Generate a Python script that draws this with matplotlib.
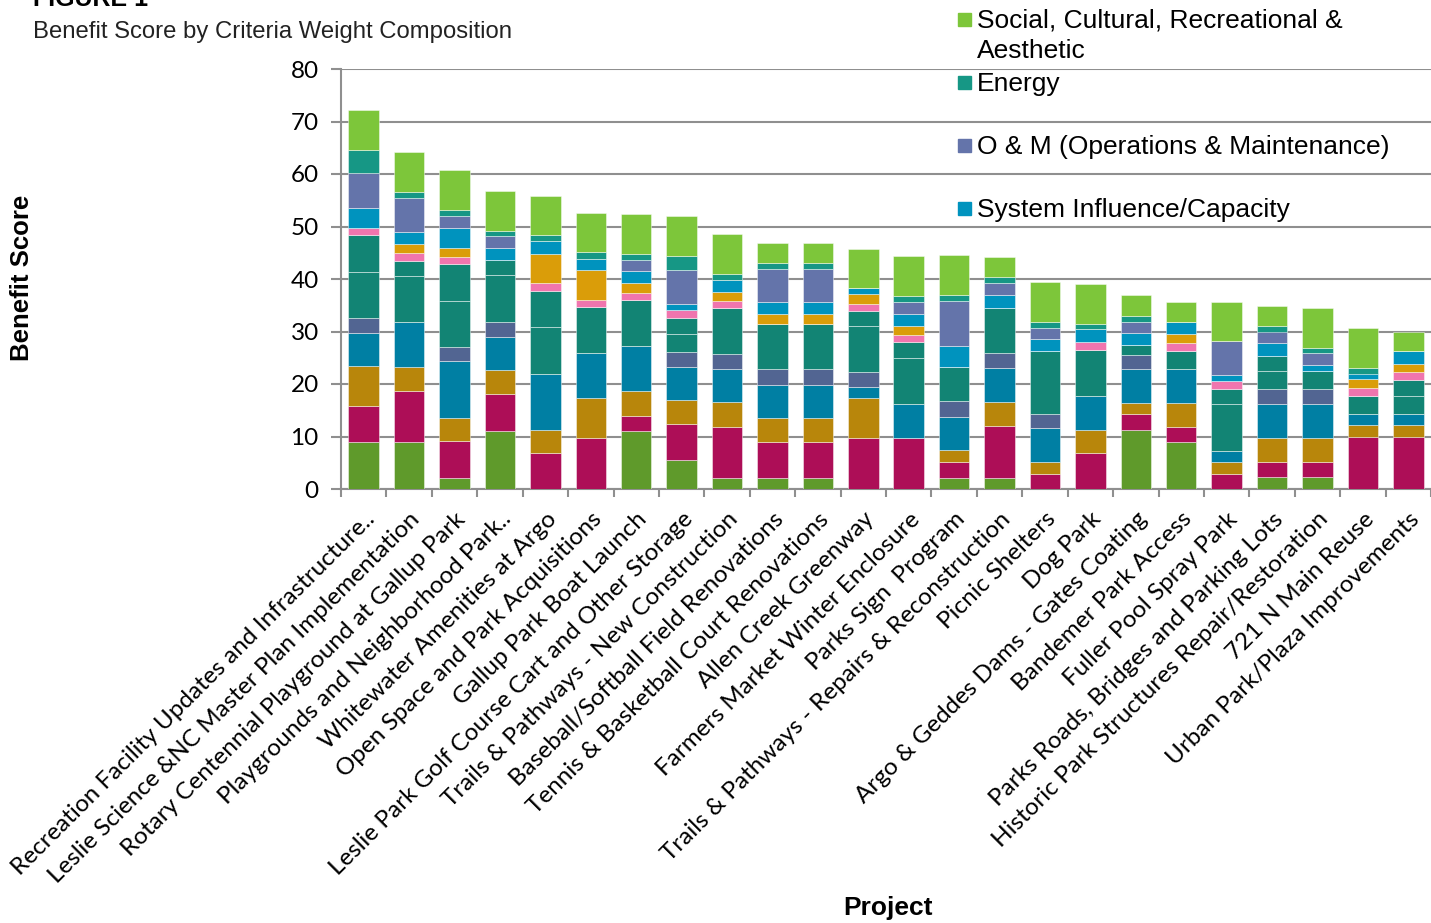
import matplotlib.pyplot as plt
import matplotlib.patches as mpatches
import numpy as np

projects = [
    "Recreation Facility Updates and Infrastructure..",
    "Leslie Science &NC Master Plan Implementation",
    "Rotary Centennial Playground at Gallup Park",
    "Playgrounds and Neighborhood Park..",
    "Whitewater Amenities at Argo",
    "Open Space and Park Acquisitions",
    "Gallup Park Boat Launch",
    "Leslie Park Golf Course Cart and Other Storage",
    "Trails & Pathways - New Construction",
    "Baseball/Softball Field Renovations",
    "Tennis & Basketball Court Renovations",
    "Allen Creek Greenway",
    "Farmers Market Winter Enclosure",
    "Parks Sign  Program",
    "Trails & Pathways - Repairs & Reconstruction",
    "Picnic Shelters",
    "Dog Park",
    "Argo & Geddes Dams - Gates Coating",
    "Bandemer Park Access",
    "Fuller Pool Spray Park",
    "Parks Roads, Bridges and Parking Lots",
    "Historic Park Structures Repair/Restoration",
    "721 N Main Reuse",
    "Urban Park/Plaza Improvements",
]

# criteria scores, stacked bottom -> top
s_green = [8.9, 8.9, 2.1, 11.1, 0, 0, 11.1, 5.5, 2.1, 2.1, 2.1, 0, 0, 2.1, 2.1, 0, 0, 11.2, 8.9, 0, 2.2, 2.2, 0, 0]
s_magenta = [6.9, 9.8, 7.0, 7.0, 6.9, 9.8, 2.9, 6.8, 9.8, 6.9, 6.9, 9.7, 9.8, 3.1, 9.9, 2.8, 6.8, 3.0, 3.0, 2.9, 2.9, 2.9, 9.9, 9.9]
s_darkgold = [7.6, 4.6, 4.5, 4.6, 4.4, 7.6, 4.6, 4.6, 4.6, 4.5, 4.5, 7.6, 0, 2.2, 4.6, 2.4, 4.5, 2.2, 4.5, 2.3, 4.6, 4.6, 2.2, 2.2]
s_darkblue = [6.3, 8.6, 10.7, 6.3, 10.7, 8.5, 8.6, 6.4, 6.4, 6.4, 6.4, 2.1, 6.4, 6.4, 6.4, 6.4, 6.4, 6.4, 6.5, 2.1, 6.4, 6.4, 2.2, 2.2]
s_darkslate = [2.9, 0, 2.7, 2.9, 0, 0, 0, 2.8, 2.8, 2.9, 2.9, 2.8, 0, 2.9, 2.9, 2.7, 0, 2.8, 0, 0, 2.9, 2.9, 0, 0]
s_teal1 = [8.7, 8.6, 8.8, 8.8, 8.8, 8.7, 8.8, 3.5, 8.7, 8.7, 8.7, 8.8, 8.8, 6.5, 8.6, 11.9, 8.8, 1.8, 3.4, 8.8, 3.4, 3.4, 3.4, 3.5]
s_teal2 = [7.0, 3.0, 7.0, 3.0, 6.9, 0, 0, 3.0, 0, 0, 0, 2.9, 3.0, 0, 0, 0, 0, 0, 0, 3.0, 3.0, 0, 0, 2.9]
s_pink = [1.5, 1.5, 1.4, 0, 1.5, 1.4, 1.4, 1.5, 1.5, 0, 0, 1.4, 1.4, 0, 0, 0, 1.5, 0, 1.5, 1.4, 0, 0, 1.5, 1.5]
s_gold = [0, 1.7, 1.8, 0, 5.6, 5.7, 1.8, 0, 1.7, 1.8, 1.8, 1.8, 1.7, 0, 0, 0, 0, 0, 1.8, 0, 0, 0, 1.7, 1.7]
s_system = [3.8, 2.3, 3.8, 2.2, 2.4, 2.2, 2.3, 1.1, 2.3, 2.3, 2.3, 1.1, 2.3, 4.0, 2.5, 2.3, 2.4, 2.4, 2.3, 1.2, 2.4, 1.3, 1.1, 2.3]
s_om = [6.5, 6.4, 2.2, 2.2, 0, 0, 2.2, 6.5, 0, 6.4, 6.4, 0, 2.2, 8.6, 2.2, 2.2, 0, 2.1, 0, 6.4, 2.2, 2.2, 0, 0]
s_energy = [4.4, 1.1, 1.1, 1.1, 1.1, 1.2, 1.1, 2.7, 1.1, 1.1, 1.1, 0, 1.1, 1.1, 1.1, 1.2, 1.1, 1.1, 0, 0, 1.1, 1.0, 1.1, 0]
s_social = [7.6, 7.6, 7.6, 7.6, 7.6, 7.5, 7.6, 7.6, 7.6, 3.8, 3.8, 7.6, 7.7, 7.7, 3.9, 7.5, 7.6, 3.9, 3.8, 7.6, 3.8, 7.6, 7.6, 3.8]

series = [s_green, s_magenta, s_darkgold, s_darkblue, s_darkslate, s_teal1, s_teal2,
          s_pink, s_gold, s_system, s_om, s_energy, s_social]
colors = ['#5F9A2B', '#AD0E57', '#B8860B', '#007FA3', '#526592', '#128474', '#128474',
          '#F075AE', '#DA9D09', '#0093BE', '#6474AA', '#169785', '#7DC63A']

# only the top part of the legend is visible in the figure
legend_labels = ['Social, Cultural, Recreational &\nAesthetic', 'Energy',
                 'O & M (Operations & Maintenance)', 'System Influence/Capacity']
legend_colors = ['#7DC63A', '#169785', '#6474AA', '#0093BE']

W, H = 1431, 923
fig = plt.figure(figsize=(W / 100, H / 100), dpi=100)
ax = fig.add_axes([341 / W, 1 - 489 / H, (W - 341) / W, 420 / H])

x = np.arange(len(projects))
bottom = np.zeros(len(projects))
for vals, c in zip(series, colors):
    ax.bar(x, vals, width=0.67, bottom=bottom, color=c,
           edgecolor=(1, 1, 1, 0.45), linewidth=0.7, zorder=3)
    bottom += np.array(vals)

grey = '#8f8f8f'
ax.set_ylim(0, 80)
ax.set_xlim(-0.5, len(projects) - 0.5)
ax.set_yticks(range(0, 81, 10))
ax.yaxis.grid(True, color=grey, linewidth=1.5, zorder=0)
ax.set_axisbelow(True)
for side in ['top', 'right']:
    ax.spines[side].set_visible(False)
for side in ['left', 'bottom']:
    ax.spines[side].set_color(grey)
    ax.spines[side].set_linewidth(1.5)
ax.tick_params(axis='y', length=7, width=1.5, color=grey, labelsize=17.5, pad=9)
for lab in ax.get_yticklabels():
    lab.set_family('Lato')

ax.set_xticks(x)
ax.set_xticks(np.arange(-0.5, len(projects), 1), minor=True)
ax.tick_params(axis='x', which='major', length=0, pad=14)
ax.tick_params(axis='x', which='minor', length=6, width=1.5, color=grey)
ax.set_xticklabels(projects, rotation=45, ha='right', rotation_mode='anchor',
                   fontsize=17.5, family='Lato')

# titles
fig.text(33 / W, 1 - 6 / H, 'FIGURE 1', fontsize=18, fontweight='bold',
         family='Liberation Sans', va='baseline')
fig.text(33 / W, 1 - 32 / H, 'Benefit Score by Criteria Weight Composition', fontsize=17.2,
         family='Liberation Sans', va='center', color='#222222')
fig.text(22 / W, 1 - 278 / H, 'Benefit Score', rotation=90, fontsize=18.5, fontweight='bold',
         family='Liberation Sans', ha='center', va='center')
fig.text(888 / W, 1 - 908 / H, 'Project', fontsize=19, fontweight='bold',
         family='Liberation Sans', ha='center', va='center')

# legend (manual, entries overlap the grid like the original)
leg_y = [19, 82, 145, 208]
for lab, c, yy in zip(legend_labels, legend_colors, leg_y):
    fig.patches.append(mpatches.Rectangle((958 / W, 1 - (yy + 6.5) / H), 13 / W, 13 / H,
                                          color=c, transform=fig.transFigure))
    nlines = lab.count('\n')
    fig.text(977 / W, 1 - (yy + 9 + 30 * nlines) / H, lab, fontsize=19, family='Liberation Sans',
             va='baseline', linespacing=1.33)

fig.savefig('out.png', dpi=100)
